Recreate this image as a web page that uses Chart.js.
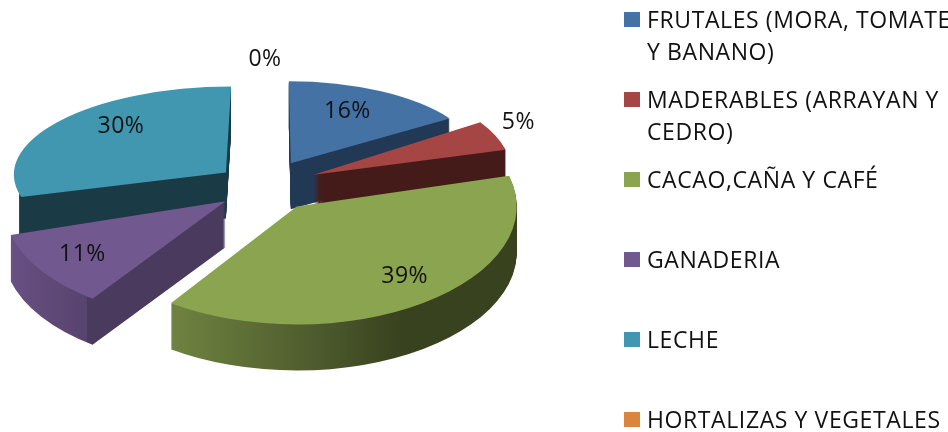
<!DOCTYPE html>
<html>
<head>
<meta charset="utf-8">
<style>html,body{margin:0;padding:0;background:#fff;overflow:hidden}canvas{display:block}</style>
<script src="https://cdn.jsdelivr.net/npm/chart.js@4/dist/chart.umd.min.js"></script>
</head>
<body>
<canvas id="c" width="948" height="432"></canvas>
<script>
// --- data ---
const categories = ["FRUTALES (MORA, TOMATE Y BANANO)", "MADERABLES (ARRAYAN Y CEDRO)", "CACAO,CAÑA Y CAFÉ", "GANADERIA", "LECHE", "HORTALIZAS Y VEGETALES"];
const shares = [15.8, 5.0, 38.9, 10.7, 29.6, 0];
const legendLines = [["FRUTALES (MORA, TOMATE", "Y BANANO)"], ["MADERABLES (ARRAYAN Y", "CEDRO)"], ["CACAO,CAÑA Y CAFÉ"], ["GANADERIA"], ["LECHE"], ["HORTALIZAS Y VEGETALES"]];
// --- style ---
const topColors = ["#4472A4", "#A64644", "#8AA44F", "#71588F", "#4197AF", "#DB843D"];
const wallStops = [
  [[0, "#213955"], [1, "#213955"]],
  [[0, "#451B1A"], [1, "#451B1A"]],
  [[0, "#6F8240"], [0.22, "#6F8240"], [0.55, "#4D5A2D"], [0.74, "#38421F"], [1, "#38421F"]],
  [[0, "#6A5285"], [0.2, "#57436F"], [0.2, "#4A3A5E"], [1, "#4A3A5E"]],
  [[0, "rgba(26,58,70,0)"], [0.016, "rgba(26,58,70,0)"], [0.016, "#1A3A46"], [1, "#1A3A46"]],
  [[0, "#8A5020"], [1, "#8A5020"]]
];
const explode = 50, tilt = 0.45, depth = 46, baseRadius = 216;
// per-slice perspective: horizontal and vertical radii, shear, apex correction
const radiusX = [191, 199, 220, 222, 212, 212];
const radiusY = [82, 96, 118, 119, 86, 86];
const shear = [0.024, 0, 0, -0.06, -0.06, 0];
const apexNudge = [[2, -2], [3, -1], [3, 3], [1, 3], [1, 1], [0, 0]];
const labelRadial = [0.6, 1.1, 0.6, 0.6, 0.6, 0];
const labelNudge = [[2, -8], [5, -9], [32, 12], [-35, 11], [-3, -15], [0, -126]];
const drawOrder = [4, 0, 1, 3, 2];
const fontFamily = '"Open Sans", sans-serif';
const legendFont = '23px ' + fontFamily, labelFont = '23px ' + fontFamily;

function sliceGeom(el, i) {
  const mid = (el.startAngle + el.endAngle) / 2;   // canvas angle
  const ax = el.x + Math.cos(mid) * explode + apexNudge[i][0];
  const ay = el.y + Math.sin(mid) * explode * tilt + apexNudge[i][1];
  return {mid, ax, ay, sx: radiusX[i] / el.outerRadius, sy: radiusY[i] / el.outerRadius, k: shear[i]};
}
function drawSlice(ctx, el, g, fill, dy) {
  ctx.save();
  ctx.translate(g.ax, g.ay + dy);
  ctx.transform(1, 0, g.k, 1, 0, 0);
  ctx.scale(g.sx, g.sy);
  ctx.translate(-el.x, -el.y);
  const base = el.options;
  el.options = Object.assign({}, base, {backgroundColor: fill, borderWidth: 0});
  el.draw(ctx);
  el.options = base;
  ctx.restore();
}
const pie3d = {
  id: 'pie3d',
  beforeDatasetDraw(chart, args) {
    const ctx = chart.ctx, els = chart.getDatasetMeta(args.index).data;
    drawOrder.forEach(i => {
      const el = els[i], g = sliceGeom(el, i), R = el.outerRadius;
      const grad = ctx.createLinearGradient(el.x - R, 0, el.x + R, 0);
      wallStops[i].forEach(s => grad.addColorStop(s[0], s[1]));
      for (let d = depth; d >= 1; d--) drawSlice(ctx, el, g, grad, d);
      drawSlice(ctx, el, g, topColors[i], 0);
    });
    return false;
  },
  afterDraw(chart) {
    const ctx = chart.ctx, els = chart.getDatasetMeta(0).data;
    ctx.save();
    ctx.fillStyle = "#111";
    ctx.textAlign = "center";
    ctx.textBaseline = "middle";
    ctx.font = labelFont;
    ctx.letterSpacing = "0.5px";
    shares.forEach((v, i) => {
      const el = els[i], g = sliceGeom(el, i);
      let x, y;
      if (v === 0) { x = el.x; y = el.y; }
      else {
        x = g.ax + Math.cos(g.mid) * radiusX[i] * labelRadial[i];
        y = g.ay + Math.sin(g.mid) * radiusY[i] * labelRadial[i];
      }
      ctx.fillText(Math.round(v) + "%", x + labelNudge[i][0], y + labelNudge[i][1]);
    });
    // legend
    ctx.textAlign = "left";
    ctx.textBaseline = "alphabetic";
    ctx.font = legendFont;
    ctx.letterSpacing = "0.6px";
    legendLines.forEach((lines, i) => {
      const rowY = 80 * i;
      ctx.fillStyle = topColors[i];
      ctx.fillRect(624, rowY + 12, 16, 15);
      ctx.fillStyle = "#111";
      lines.forEach((t, k) => ctx.fillText(t, 647, rowY + 28 + k * 32));
    });
    ctx.restore();
  }
};
new Chart(document.getElementById('c'), {
  type: 'pie',
  data: {labels: categories, datasets: [{data: shares, backgroundColor: topColors, borderWidth: 0, offset: 0, radius: baseRadius}]},
  options: {
    responsive: false, animation: false,
    layout: {padding: {left: 0, top: 0, right: 418, bottom: 62}},
    plugins: {legend: {display: false}, tooltip: {enabled: false}},
    events: []
  },
  plugins: [pie3d]
});
</script>
</body>
</html>
